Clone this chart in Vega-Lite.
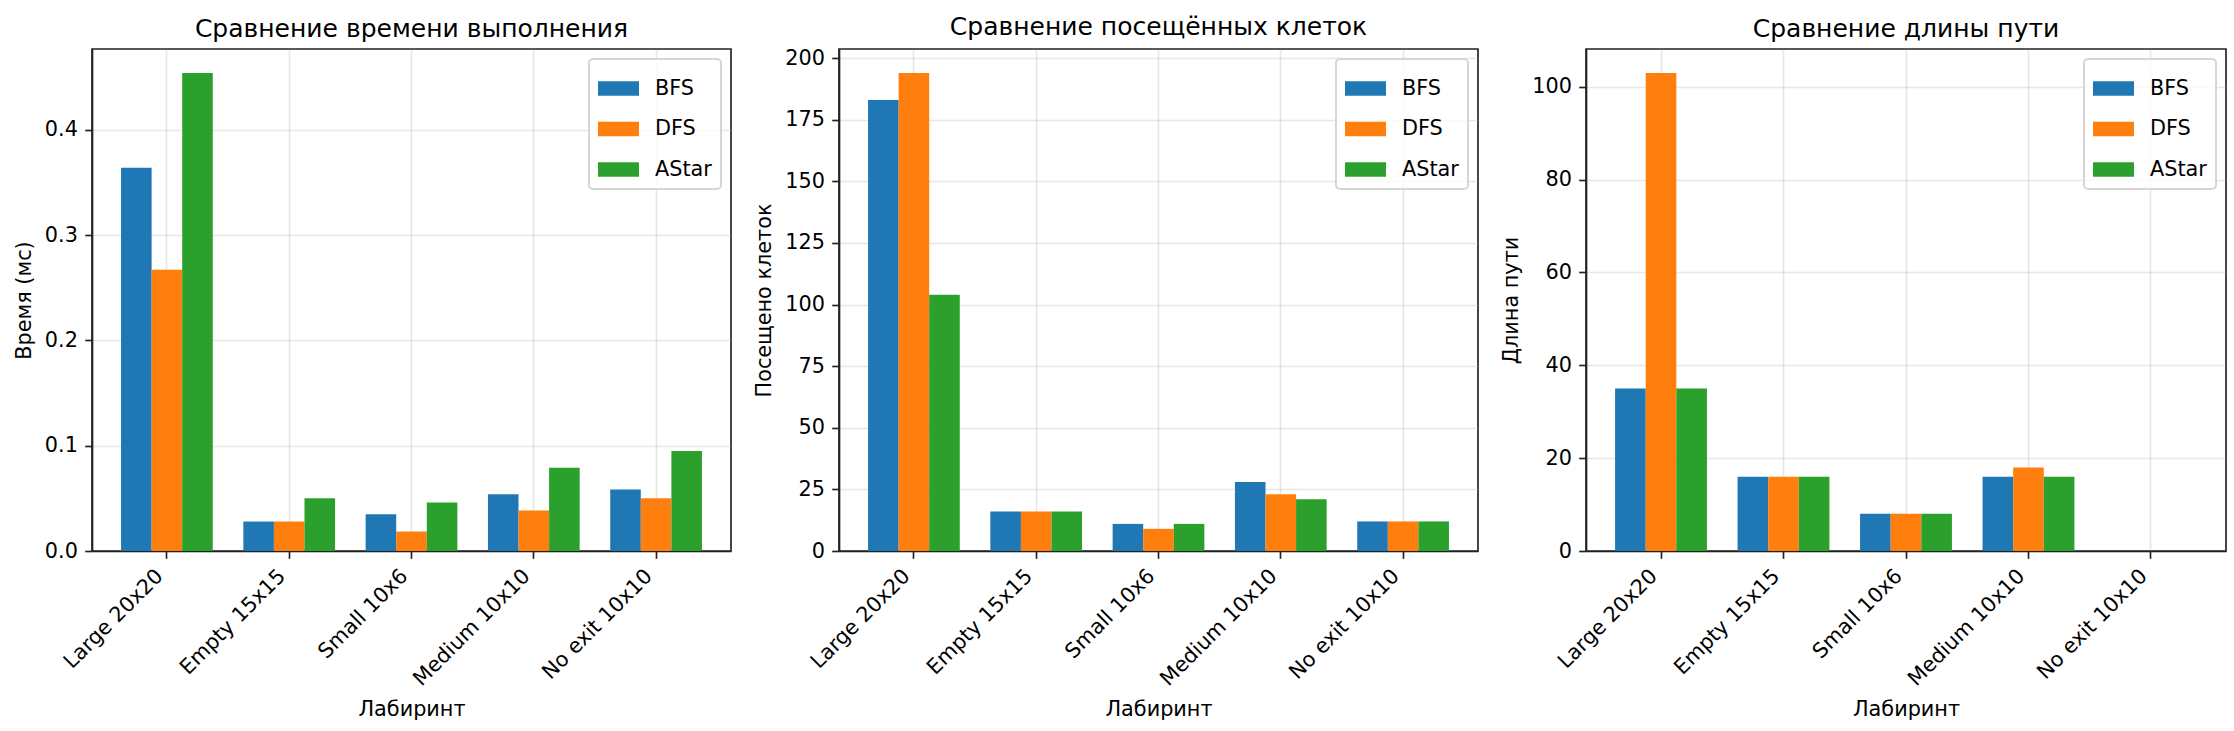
{
  "$schema": "https://vega.github.io/schema/vega-lite/v6.json",
  "background": "white",
  "padding": {"left": 12, "top": 13, "right": 5, "bottom": 5},
  "spacing": 20,
  "data": {"values": [
    {"maze": "Large 20x20", "algo": "BFS", "time": 0.364, "visited": 183, "path": 35},
    {"maze": "Large 20x20", "algo": "DFS", "time": 0.267, "visited": 194, "path": 103},
    {"maze": "Large 20x20", "algo": "AStar", "time": 0.454, "visited": 104, "path": 35},
    {"maze": "Empty 15x15", "algo": "BFS", "time": 0.028, "visited": 16, "path": 16},
    {"maze": "Empty 15x15", "algo": "DFS", "time": 0.028, "visited": 16, "path": 16},
    {"maze": "Empty 15x15", "algo": "AStar", "time": 0.050, "visited": 16, "path": 16},
    {"maze": "Small 10x6", "algo": "BFS", "time": 0.035, "visited": 11, "path": 8},
    {"maze": "Small 10x6", "algo": "DFS", "time": 0.0185, "visited": 9, "path": 8},
    {"maze": "Small 10x6", "algo": "AStar", "time": 0.046, "visited": 11, "path": 8},
    {"maze": "Medium 10x10", "algo": "BFS", "time": 0.054, "visited": 28, "path": 16},
    {"maze": "Medium 10x10", "algo": "DFS", "time": 0.0385, "visited": 23, "path": 18},
    {"maze": "Medium 10x10", "algo": "AStar", "time": 0.079, "visited": 21, "path": 16},
    {"maze": "No exit 10x10", "algo": "BFS", "time": 0.0585, "visited": 12, "path": 0},
    {"maze": "No exit 10x10", "algo": "DFS", "time": 0.050, "visited": 12, "path": 0},
    {"maze": "No exit 10x10", "algo": "AStar", "time": 0.095, "visited": 12, "path": 0}
  ]},
  "resolve": {
    "scale": {"x": "independent", "y": "independent", "xOffset": "independent", "color": "independent"},
    "legend": {"color": "independent"},
    "axis": {"x": "independent", "y": "independent"}
  },
  "hconcat": [
    {
      "width": 639, "height": 502,
      "title": "Сравнение времени выполнения",
      "mark": {"type": "bar"},
      "encoding": {
        "x": {"field": "maze", "type": "nominal", "sort": ["Large 20x20", "Empty 15x15", "Small 10x6", "Medium 10x10", "No exit 10x10"],
              "scale": {"paddingInner": 0.25, "paddingOuter": 0.2375},
              "axis": {"title": "Лабиринт", "labelAngle": -45, "labelAlign": "right", "labelBaseline": "top", "labelOffset": -14, "labelPadding": 7.3, "bandPosition": 0.5, "labelOverlap": false, "labelFontSize": 20.8}},
        "xOffset": {"field": "algo", "type": "nominal", "sort": ["BFS", "DFS", "AStar"], "scale": {"paddingInner": 0, "paddingOuter": 0}},
        "y": {"field": "time", "type": "quantitative", "scale": {"domain": [0, 0.4767], "nice": false, "zero": true},
              "axis": {"title": "Время (мс)", "values": [0, 0.1, 0.2, 0.3, 0.4], "format": ".1f"}},
        "color": {"field": "algo", "type": "nominal", "sort": ["BFS", "DFS", "AStar"],
                  "scale": {"domain": ["BFS", "DFS", "AStar"], "range": ["#1f77b4", "#ff7f0e", "#2ca02c"]},
                  "legend": {"title": null, "orient": "top-right"}}
      }
    },
    {
      "width": 639, "height": 502,
      "title": "Сравнение посещённых клеток",
      "mark": {"type": "bar"},
      "encoding": {
        "x": {"field": "maze", "type": "nominal", "sort": ["Large 20x20", "Empty 15x15", "Small 10x6", "Medium 10x10", "No exit 10x10"],
              "scale": {"paddingInner": 0.25, "paddingOuter": 0.2375},
              "axis": {"title": "Лабиринт", "labelAngle": -45, "labelAlign": "right", "labelBaseline": "top", "labelOffset": -14, "labelPadding": 7.3, "bandPosition": 0.5, "labelOverlap": false, "labelFontSize": 20.8}},
        "xOffset": {"field": "algo", "type": "nominal", "sort": ["BFS", "DFS", "AStar"], "scale": {"paddingInner": 0, "paddingOuter": 0}},
        "y": {"field": "visited", "type": "quantitative", "scale": {"domain": [0, 203.7], "nice": false, "zero": true},
              "axis": {"title": "Посещено клеток", "values": [0, 25, 50, 75, 100, 125, 150, 175, 200], "format": "d"}},
        "color": {"field": "algo", "type": "nominal", "sort": ["BFS", "DFS", "AStar"],
                  "scale": {"domain": ["BFS", "DFS", "AStar"], "range": ["#1f77b4", "#ff7f0e", "#2ca02c"]},
                  "legend": {"title": null, "orient": "top-right"}}
      }
    },
    {
      "width": 640, "height": 502,
      "title": "Сравнение длины пути",
      "mark": {"type": "bar"},
      "encoding": {
        "x": {"field": "maze", "type": "nominal", "sort": ["Large 20x20", "Empty 15x15", "Small 10x6", "Medium 10x10", "No exit 10x10"],
              "scale": {"paddingInner": 0.25, "paddingOuter": 0.2375},
              "axis": {"title": "Лабиринт", "labelAngle": -45, "labelAlign": "right", "labelBaseline": "top", "labelOffset": -14, "labelPadding": 7.3, "bandPosition": 0.5, "labelOverlap": false, "labelFontSize": 20.8}},
        "xOffset": {"field": "algo", "type": "nominal", "sort": ["BFS", "DFS", "AStar"], "scale": {"paddingInner": 0, "paddingOuter": 0}},
        "y": {"field": "path", "type": "quantitative", "scale": {"domain": [0, 108.15], "nice": false, "zero": true},
              "axis": {"title": "Длина пути", "values": [0, 20, 40, 60, 80, 100], "format": "d"}},
        "color": {"field": "algo", "type": "nominal", "sort": ["BFS", "DFS", "AStar"],
                  "scale": {"domain": ["BFS", "DFS", "AStar"], "range": ["#1f77b4", "#ff7f0e", "#2ca02c"]},
                  "legend": {"title": null, "orient": "top-right"}}
      }
    }
  ],
  "config": {
    "font": "DejaVu Sans",
    "view": {"stroke": "#222222", "strokeWidth": 1.67},
    "axis": {
      "labelFont": "DejaVu Sans", "labelFontSize": 20.8, "labelColor": "#000000",
      "titleFont": "DejaVu Sans", "titleFontSize": 20.8, "titleFontWeight": "normal", "titleColor": "#000000",
      "domainColor": "#222222", "domainWidth": 1.67,
      "tickColor": "#222222", "tickWidth": 1.67, "tickSize": 7.3,
      "labelPadding": 7.3, "titlePadding": 10,
      "grid": true, "gridColor": "#b0b0b0", "gridOpacity": 0.3, "gridWidth": 1.67,
      "zindex": 1
    },
    "axisX": {"titlePadding": 10},
    "axisY": {"labelAlign": "right", "labelBaseline": "middle"},
    "title": {"font": "DejaVu Sans", "fontSize": 25, "fontWeight": "normal", "color": "#000000", "offset": 7.5, "anchor": "middle", "frame": "group"},
    "legend": {
      "labelFont": "DejaVu Sans", "labelFontSize": 20.8, "labelColor": "#000000",
      "symbolType": "M-1,-0.35L1,-0.35L1,0.35L-1,0.35Z", "symbolSize": 1681, "symbolStrokeWidth": 0, "symbolOpacity": 1,
      "padding": 9, "cornerRadius": 4, "strokeColor": "#d6d6d6", "strokeWidth": 2, "fillColor": "rgba(255,255,255,0.8)",
      "offset": 10, "rowPadding": 9.5, "labelOffset": 16
    }
  }
}
